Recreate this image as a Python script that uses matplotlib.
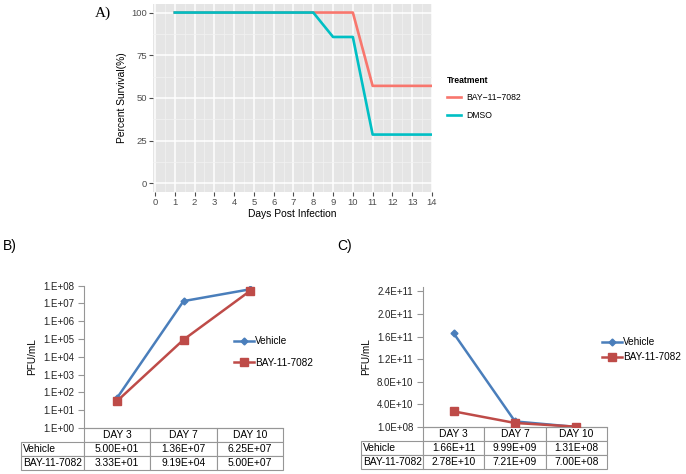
import matplotlib
matplotlib.use("Agg")
import matplotlib.pyplot as plt
from matplotlib.lines import Line2D
from matplotlib.table import Table
from matplotlib.ticker import FixedLocator, NullLocator

plt.rcParams['font.family'] = ['Liberation Sans', 'DejaVu Sans']

# Panel A: survival
surv_days = [1, 2, 3, 4, 5, 6, 7, 8, 9, 10, 11, 12, 13, 14]
surv_bay = [100, 100, 100, 100, 100, 100, 100, 100, 100, 100, 57.1, 57.1, 57.1, 57.1]
surv_dmso = [100, 100, 100, 100, 100, 100, 100, 100, 85.7, 85.7, 28.6, 28.6, 28.6, 28.6]
surv_labels = ['BAY\u221211\u22127082', 'DMSO']

# Panels B and C: titres
days = ['DAY 3', 'DAY 7', 'DAY 10']
series = ['Vehicle', 'BAY-11-7082']
b_vehicle = [5.00e1, 1.36e7, 6.25e7]
b_bay = [3.33e1, 9.19e4, 5.00e7]
c_vehicle = [1.66e11, 9.99e9, 1.31e8]
c_bay = [2.78e10, 7.21e9, 7.00e8]

W, H = 686, 474
fig = plt.figure(figsize=(W / 100, H / 100), dpi=100)


def px_axes(x0, y0, x1, y1):
    # pixel box (top-left origin) -> figure axes
    return fig.add_axes([x0 / W, 1 - y1 / H, (x1 - x0) / W, (y1 - y0) / H])


red_gg, teal_gg = '#F8766D', '#00BFC4'
blue_xl, red_xl = '#4A7EBB', '#BE4B48'
grey_axis = '#969696'

# ---------------- A ----------------
axA = px_axes(153, 4, 432, 192)
axA.set_facecolor('#E5E5E5')
axA.plot(surv_days, surv_bay, color=red_gg, lw=1.9, zorder=3)
axA.plot(surv_days, surv_dmso, color=teal_gg, lw=1.9, zorder=3)
axA.set_xlim(-0.1, 14.0)
axA.set_ylim(-5, 105)
axA.set_xticks(range(0, 15))
axA.set_yticks([0, 25, 50, 75, 100])
axA.set_xticks([x + 0.5 for x in range(0, 14)], minor=True)
axA.set_yticks([12.5, 37.5, 62.5, 87.5], minor=True)
axA.grid(which='major', color='white', lw=1.1)
axA.grid(which='minor', color='#F2F2F2', lw=0.5)
axA.set_axisbelow(True)
for s in axA.spines.values():
    s.set_visible(False)
axA.tick_params(which='major', length=3, color='#4D4D4D', labelcolor='#4D4D4D',
                labelsize=6.8, pad=1.5)
axA.tick_params(which='minor', length=0)
axA.set_xlabel('Days Post Infection', fontsize=7.4, labelpad=1)
axA.set_ylabel('Percent Survival(%)', fontsize=7.4, labelpad=3)

handles = [Line2D([], [], color=red_gg, lw=1.9), Line2D([], [], color=teal_gg, lw=1.9)]
legA = fig.legend(handles, surv_labels, title='Treatment', loc='upper left',
                  bbox_to_anchor=(440 / W, 1 - 69 / H), frameon=False, fontsize=6.2,
                  title_fontproperties={'weight': 'bold', 'size': 6.2},
                  handlelength=1.6, handletextpad=0.6, labelspacing=1.0,
                  alignment='left', borderpad=0.3)

fig.text(95 / W, 1 - 13 / H, 'A)', fontsize=11, family='Liberation Serif', va='center')
fig.text(3 / W, 1 - 246 / H, 'B)', fontsize=10, va='center')
fig.text(337 / W, 1 - 246 / H, 'C)', fontsize=10, va='center')


def excel_panel(ax, veh, bay, label_w, leg_xy, leg_space, ylab_x):
    x = list(range(len(days)))
    ax.plot(x, veh, color=blue_xl, lw=1.8, marker='D', ms=3.5, label=series[0], zorder=3)
    ax.plot(x, bay, color=red_xl, lw=1.8, marker='s', ms=6, label=series[1], zorder=4)
    ax.set_xlim(-0.5, len(days) - 0.5)
    ax.xaxis.set_major_locator(NullLocator())
    ax.spines['top'].set_visible(False)
    ax.spines['right'].set_visible(False)
    for s in ('left', 'bottom'):
        ax.spines[s].set_color(grey_axis)
        ax.spines[s].set_linewidth(0.8)
    ax.tick_params(axis='y', length=4, color=grey_axis, labelsize=7, pad=3,
                   labelcolor='#222222')
    ax.set_ylabel('PFU/mL', fontsize=7.2)
    pos = ax.get_position()
    ax_w = pos.width * W
    ax_h = pos.height * H
    ax.yaxis.set_label_coords((ylab_x - pos.x0 * W) / ax_w, 0.5)
    fig.legend(*ax.get_legend_handles_labels(), loc='upper left',
               bbox_to_anchor=(leg_xy[0] / W, 1 - leg_xy[1] / H), frameon=False,
               fontsize=7.2, handlelength=2.0, handletextpad=0.1,
               labelspacing=leg_space, borderaxespad=0, borderpad=0)

    # data table under the axis
    row_h = 14.0
    col_w = ax_w / len(days)
    tab = Table(ax, bbox=[-label_w / ax_w, -3 * row_h / ax_h,
                          (label_w + ax_w) / ax_w, 3 * row_h / ax_h])
    rows = [[''] + days,
            [series[0]] + ['%.2E' % v for v in veh],
            [series[1]] + ['%.2E' % v for v in bay]]
    for r, row in enumerate(rows):
        for c, txt in enumerate(row):
            cell = tab.add_cell(r, c, width=label_w if c == 0 else col_w, height=row_h,
                                text=txt, loc='left' if c == 0 else 'center',
                                edgecolor=grey_axis)
            cell.set_linewidth(0.8)
            cell.PAD = 0.03
            if r == 0 and c == 0:
                cell.visible_edges = 'open'
    tab.auto_set_font_size(False)
    tab.set_fontsize(7.4)
    ax.add_table(tab)


# ---------------- B ----------------
axB = px_axes(84, 285.7, 283, 428)
axB.set_yscale('log')
axB.set_ylim(1, 1e8)
axB.yaxis.set_major_locator(FixedLocator([10.0 ** k for k in range(9)]))
axB.yaxis.set_minor_locator(NullLocator())
axB.set_yticklabels(['1.E+%02d' % k for k in range(9)])
excel_panel(axB, b_vehicle, b_bay, 63, (234, 336), 1.15, 37)

# ---------------- C ----------------
axC = px_axes(423, 287, 607, 427)
axC.set_ylim(1e8, 2.48e11)
c_ticks = [1e8 + k * 4e10 for k in range(7)]
axC.yaxis.set_major_locator(FixedLocator(c_ticks))
axC.set_yticklabels(['%.1E' % v for v in c_ticks])
excel_panel(axC, c_vehicle, c_bay, 62, (602, 337), 0.55, 371)

fig.savefig('out.png', dpi=100)
